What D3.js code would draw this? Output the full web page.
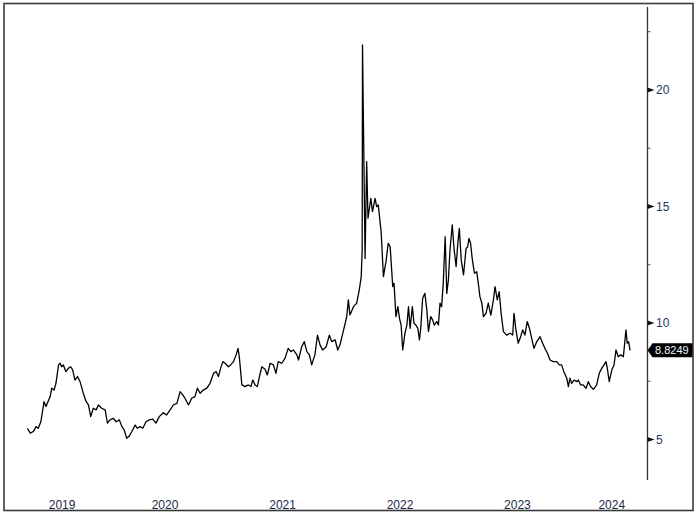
<!DOCTYPE html>
<html>
<head>
<meta charset="utf-8">
<script src="https://cdn.jsdelivr.net/npm/d3@7"></script>
<style>
  body { margin: 0; background: #fff; }
  text { font-family: "Liberation Sans", Arial, sans-serif; }
</style>
</head>
<body>
<script>
var width = 700, height = 515;

var dates = [
  "2019-05-01","2019-05-10","2019-05-20","2019-05-28","2019-06-04","2019-06-12","2019-06-22","2019-06-28","2019-07-11","2019-07-16","2019-07-23","2019-07-29","2019-08-06","2019-08-11","2019-08-16","2019-08-21","2019-08-29","2019-09-06","2019-09-13","2019-09-19","2019-09-26","2019-10-04","2019-10-12","2019-10-22","2019-10-31","2019-11-07","2019-11-14","2019-11-22","2019-12-01","2019-12-08","2019-12-18","2019-12-29",
  "2020-01-05","2020-01-13","2020-01-23","2020-02-01","2020-02-11","2020-02-19","2020-02-26","2020-03-05","2020-03-13","2020-03-21","2020-03-31","2020-04-07","2020-04-15","2020-04-24","2020-05-04","2020-05-14","2020-05-25","2020-06-04","2020-06-14","2020-06-27","2020-07-07","2020-07-18","2020-07-28","2020-08-08","2020-08-18","2020-08-26","2020-09-02","2020-09-13","2020-09-23","2020-10-03","2020-10-11","2020-10-19","2020-10-29","2020-11-09","2020-11-19","2020-11-30","2020-12-08","2020-12-15","2020-12-22","2020-12-29",
  "2021-01-05","2021-01-15","2021-01-22","2021-01-31","2021-02-08","2021-02-14","2021-02-18","2021-02-26","2021-03-08","2021-03-18","2021-03-26","2021-04-01","2021-04-08","2021-04-15","2021-04-20","2021-04-29","2021-05-09","2021-05-16","2021-05-25","2021-06-04","2021-06-12","2021-06-19","2021-06-30","2021-07-10","2021-07-20","2021-07-28","2021-08-05","2021-08-16","2021-08-21","2021-08-31","2021-09-08","2021-09-16","2021-09-24","2021-10-01","2021-10-11","2021-10-19","2021-10-27","2021-11-04","2021-11-15","2021-11-25","2021-12-02","2021-12-13","2021-12-21","2021-12-28",
  "2022-01-07","2022-01-18","2022-01-23","2022-01-28","2022-02-08","2022-02-18","2022-02-26","2022-03-04","2022-03-07","2022-03-08","2022-03-16","2022-03-21","2022-03-25","2022-04-03","2022-04-08","2022-04-16","2022-04-21","2022-04-26","2022-05-05","2022-05-12","2022-05-20","2022-05-27","2022-06-02","2022-06-10","2022-06-14","2022-06-20","2022-06-26","2022-07-01","2022-07-06","2022-07-11","2022-07-18","2022-07-24","2022-07-29","2022-08-03","2022-08-10","2022-08-15","2022-08-21","2022-08-27","2022-09-01","2022-09-05","2022-09-11","2022-09-18","2022-09-24","2022-09-29","2022-10-06","2022-10-12","2022-10-17","2022-10-25","2022-10-30","2022-11-04","2022-11-09","2022-11-14","2022-11-20","2022-11-25","2022-11-30","2022-12-05","2022-12-12","2022-12-18","2022-12-24","2022-12-29",
  "2023-01-03","2023-01-09","2023-01-16","2023-01-24","2023-01-29","2023-02-02","2023-02-07","2023-02-12","2023-02-19","2023-02-26","2023-03-03","2023-03-08","2023-03-14","2023-03-19","2023-03-27","2023-04-03","2023-04-11","2023-04-19","2023-04-24","2023-05-01","2023-05-07","2023-05-13","2023-05-20","2023-05-30","2023-06-10","2023-06-18","2023-06-22","2023-06-28","2023-07-05","2023-07-11","2023-07-19","2023-07-26","2023-08-02","2023-08-09","2023-08-16","2023-08-23","2023-09-01","2023-09-11","2023-09-19","2023-09-26","2023-10-04","2023-10-12","2023-10-22","2023-11-02","2023-11-10","2023-11-17","2023-11-24","2023-12-03","2023-12-08","2023-12-13","2023-12-18","2023-12-26",
  "2024-01-03","2024-01-08","2024-01-15","2024-01-23","2024-02-01","2024-02-08","2024-02-15","2024-02-24","2024-03-05","2024-03-13","2024-03-21","2024-03-28","2024-04-03","2024-04-07","2024-04-13","2024-04-21","2024-04-28","2024-05-04","2024-05-11","2024-05-19","2024-05-27","2024-06-01","2024-06-04","2024-06-08","2024-06-12","2024-06-17"
];
var values = [
  5.48,5.27,5.34,5.55,5.48,5.76,6.62,6.41,6.84,7.20,7.12,7.41,8.20,8.27,8.12,8.20,7.91,8.06,8.12,7.98,7.55,7.70,7.48,6.98,6.62,6.48,5.98,6.34,6.27,6.48,6.34,6.27,
  5.70,5.84,5.91,5.76,5.84,5.55,5.41,5.05,5.15,5.34,5.62,5.48,5.55,5.48,5.76,5.84,5.87,5.70,5.98,6.15,6.05,6.27,6.48,6.55,7.05,6.91,6.77,6.48,6.77,6.84,7.20,6.98,7.12,7.20,7.41,7.84,7.91,7.70,8.06,8.34,
  8.27,8.12,8.20,8.34,8.63,8.91,8.55,7.34,7.27,7.34,7.27,7.55,7.34,7.27,7.60,8.12,8.01,7.77,8.27,8.20,7.84,8.34,8.27,8.48,8.91,8.77,8.84,8.63,8.41,8.98,9.20,8.77,8.63,8.20,8.63,9.48,9.06,8.84,8.98,9.48,9.20,9.27,8.84,9.06,
  9.63,10.27,10.99,10.34,10.70,10.85,11.42,11.99,13.13,21.93,12.77,16.92,14.50,15.35,14.78,15.35,14.99,15.06,13.90,11.99,12.63,13.42,13.27,11.56,11.70,10.27,10.70,10.20,9.91,8.84,9.56,9.91,10.70,9.77,10.70,9.99,9.91,9.77,9.27,9.77,11.06,11.27,10.56,9.63,10.27,10.13,9.91,10.06,9.91,10.85,10.70,11.70,13.70,11.27,11.85,13.13,14.21,13.13,12.42,13.35,
  14.06,12.70,12.06,13.20,13.27,13.63,13.42,12.77,12.13,12.20,11.70,11.13,10.85,10.27,10.41,10.85,10.34,10.99,11.56,10.99,11.34,10.41,9.63,9.48,9.56,9.48,10.41,9.70,9.13,9.34,9.70,9.48,10.06,9.77,9.34,8.91,9.20,9.41,9.13,8.91,8.70,8.41,8.34,8.34,8.20,8.20,7.91,7.63,7.27,7.63,7.41,7.55,
  7.48,7.55,7.34,7.34,7.20,7.48,7.27,7.15,7.34,7.84,8.06,8.20,8.34,8.06,7.48,7.98,8.20,8.84,8.55,8.63,8.55,9.27,9.70,9.13,9.20,8.8249
];

var majorTicks = [5, 10, 15, 20];
var minorTicks = [7.5, 12.5, 17.5, 22.5];
var yearLabels = [2019, 2020, 2021, 2022, 2023, 2024];
var lastLabel = "8.8249";

var parse = d3.timeParse("%Y-%m-%d");
var series = dates.map(function (d, i) { return { date: parse(d), value: values[i] }; });

var axisX = 647.5;
var x = d3.scaleTime()
    .domain([parse("2019-04-02"), parse("2024-08-10")])
    .range([18, axisX]);
var y = d3.scaleLinear()
    .domain([3.26, 23.56])
    .range([480, 7]);

var svg = d3.select("body").append("svg")
    .attr("width", width)
    .attr("height", height);

// frame
svg.append("rect")
    .attr("x", 4).attr("y", 3.5)
    .attr("width", 689).attr("height", 507)
    .attr("fill", "none")
    .attr("stroke", "#3a3a3a")
    .attr("stroke-width", 1.6);

// right axis line
svg.append("line")
    .attr("x1", axisX).attr("x2", axisX)
    .attr("y1", y.range()[1]).attr("y2", y.range()[0])
    .attr("stroke", "#333").attr("stroke-width", 1.3);

// minor ticks
svg.selectAll(".minor").data(minorTicks).enter().append("line")
    .attr("class", "minor")
    .attr("x1", axisX).attr("x2", axisX + 3)
    .attr("y1", function (d) { return y(d); })
    .attr("y2", function (d) { return y(d); })
    .attr("stroke", "#555").attr("stroke-width", 1);

// major ticks: little arrow + label
var major = svg.selectAll(".major").data(majorTicks).enter().append("g")
    .attr("class", "major")
    .attr("transform", function (d) { return "translate(" + axisX + "," + y(d) + ")"; });
major.append("path")
    .attr("d", "M0,-2.5 L7,0 L0,2.5 Z")
    .attr("fill", "#111");
major.append("text")
    .attr("x", 8.5).attr("dy", "0.35em")
    .attr("font-size", 12)
    .attr("fill", "#1f3766")
    .text(function (d) { return d; });

// year labels, centred on the visible part of each year
var dom = x.domain();
svg.selectAll(".year").data(yearLabels).enter().append("text")
    .attr("class", "year")
    .attr("x", function (d) {
        var a = new Date(d, 0, 1), b = new Date(d + 1, 0, 1);
        if (a < dom[0]) a = dom[0];
        if (b > dom[1]) b = dom[1];
        return (x(a) + x(b)) / 2;
    })
    .attr("y", 509)
    .attr("text-anchor", "middle")
    .attr("font-size", 12)
    .attr("fill", "#1c2a4a")
    .text(function (d) { return d; });

// the series
var line = d3.line()
    .x(function (d) { return x(d.date); })
    .y(function (d) { return y(d.value); });
svg.append("path")
    .datum(series)
    .attr("d", line)
    .attr("fill", "none")
    .attr("stroke", "#000")
    .attr("stroke-width", 1.3)
    .attr("stroke-linejoin", "round");

// last value tag
var last = series[series.length - 1];
var ly = y(last.value);
svg.append("path")
    .attr("d", "M" + axisX + "," + ly + " L" + (axisX + 5) + "," + (ly - 7) +
        " L692.5," + (ly - 7) + " L692.5," + (ly + 7) + " L" + (axisX + 5) + "," + (ly + 7) + " Z")
    .attr("fill", "#000");
svg.append("text")
    .attr("x", axisX + 7.5).attr("y", ly).attr("dy", "0.36em")
    .attr("font-size", 11)
    .attr("fill", "#eef4ff")
    .text(lastLabel);
</script>
</body>
</html>
